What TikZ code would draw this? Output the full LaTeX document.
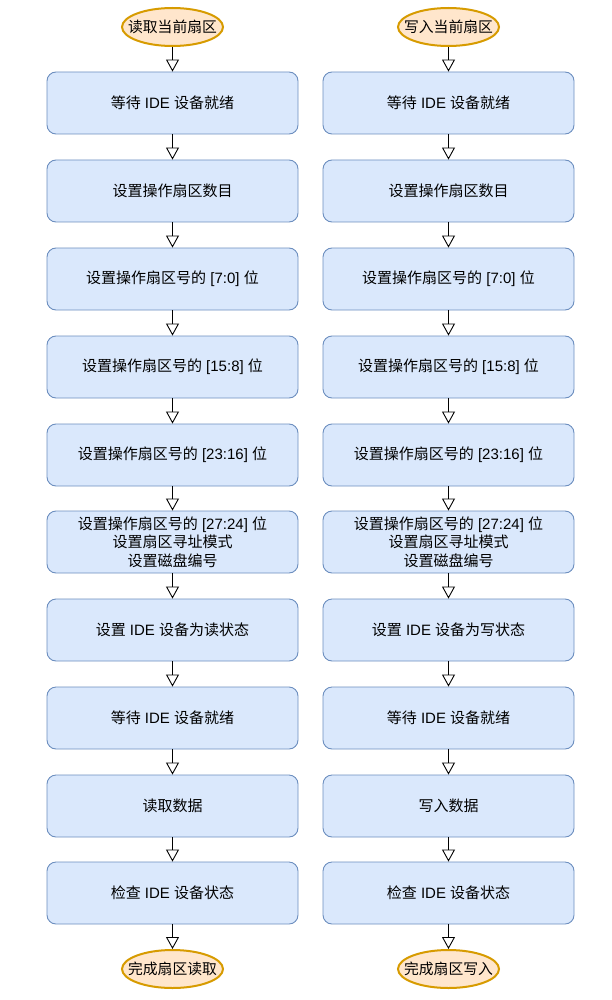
\documentclass[tikz,border=0pt]{standalone}
\usepackage{fontspec}
\setmainfont{Liberation Sans}
\newfontfamily\cjk{Noto Sans CJK SC}
\newcommand{\zh}[1]{{\cjk #1}}
\usetikzlibrary{arrows.meta,shapes.geometric}
\definecolor{boxfill}{HTML}{DAE8FC}
\definecolor{boxline}{HTML}{6C8EBF}
\definecolor{ovfill}{HTML}{FFE6CC}
\definecolor{ovline}{HTML}{D79B00}
\tikzset{
  stepbox/.style={draw=boxline, fill=boxfill, rounded corners=9pt, minimum width=251pt, minimum height=62pt, inner sep=0pt, align=center, font=\fontsize{15pt}{18.5pt}\selectfont, line width=0.9pt},
  term/.style={ellipse, draw=ovline, fill=ovfill, line width=2pt, minimum width=101pt, minimum height=38pt, inner xsep=-9pt, inner ysep=0pt, font=\fontsize{14.8pt}{18.5pt}\selectfont},
  conn/.style={-{Triangle[open, width=13pt, length=12pt]}, line width=0.9pt, black}
}
\begin{document}
\begin{tikzpicture}[x=1pt,y=-1pt]
\useasboundingbox (0,0) rectangle (612,1000);
\node[term] (L0) at (172.5,27) {\zh{读取当前扇区}};
\node[stepbox] (L1) at (172.5,103) {\zh{等待} IDE \zh{设备就绪}};
\node[stepbox] (L2) at (172.5,191) {\zh{设置操作扇区数目}};
\node[stepbox] (L3) at (172.5,279) {\zh{设置操作扇区号的} [7:0] \zh{位}};
\node[stepbox] (L4) at (172.5,367) {\zh{设置操作扇区号的} [15:8] \zh{位}};
\node[stepbox] (L5) at (172.5,455) {\zh{设置操作扇区号的} [23:16] \zh{位}};
\node[stepbox] (L6) at (172.5,542) {\zh{设置操作扇区号的} [27:24] \zh{位}\\\zh{设置扇区寻址模式}\\\zh{设置磁盘编号}};
\node[stepbox] (L7) at (172.5,630) {\zh{设置} IDE \zh{设备为读状态}};
\node[stepbox] (L8) at (172.5,718) {\zh{等待} IDE \zh{设备就绪}};
\node[stepbox] (L9) at (172.5,806) {\zh{读取数据}};
\node[stepbox] (L10) at (172.5,893) {\zh{检查} IDE \zh{设备状态}};
\node[term] (L11) at (172.5,969) {\zh{完成扇区读取}};

\node[term] (R0) at (448.5,27) {\zh{写入当前扇区}};
\node[stepbox] (R1) at (448.5,103) {\zh{等待} IDE \zh{设备就绪}};
\node[stepbox] (R2) at (448.5,191) {\zh{设置操作扇区数目}};
\node[stepbox] (R3) at (448.5,279) {\zh{设置操作扇区号的} [7:0] \zh{位}};
\node[stepbox] (R4) at (448.5,367) {\zh{设置操作扇区号的} [15:8] \zh{位}};
\node[stepbox] (R5) at (448.5,455) {\zh{设置操作扇区号的} [23:16] \zh{位}};
\node[stepbox] (R6) at (448.5,542) {\zh{设置操作扇区号的} [27:24] \zh{位}\\\zh{设置扇区寻址模式}\\\zh{设置磁盘编号}};
\node[stepbox] (R7) at (448.5,630) {\zh{设置} IDE \zh{设备为写状态}};
\node[stepbox] (R8) at (448.5,718) {\zh{等待} IDE \zh{设备就绪}};
\node[stepbox] (R9) at (448.5,806) {\zh{写入数据}};
\node[stepbox] (R10) at (448.5,893) {\zh{检查} IDE \zh{设备状态}};
\node[term] (R11) at (448.5,969) {\zh{完成扇区写入}};

\foreach \s in {L,R}{
  \foreach \i [evaluate=\i as \j using int(\i+1)] in {0,...,10}{
    \draw[conn] (\s\i) -- (\s\j);
  }
}
\end{tikzpicture}
\end{document}
